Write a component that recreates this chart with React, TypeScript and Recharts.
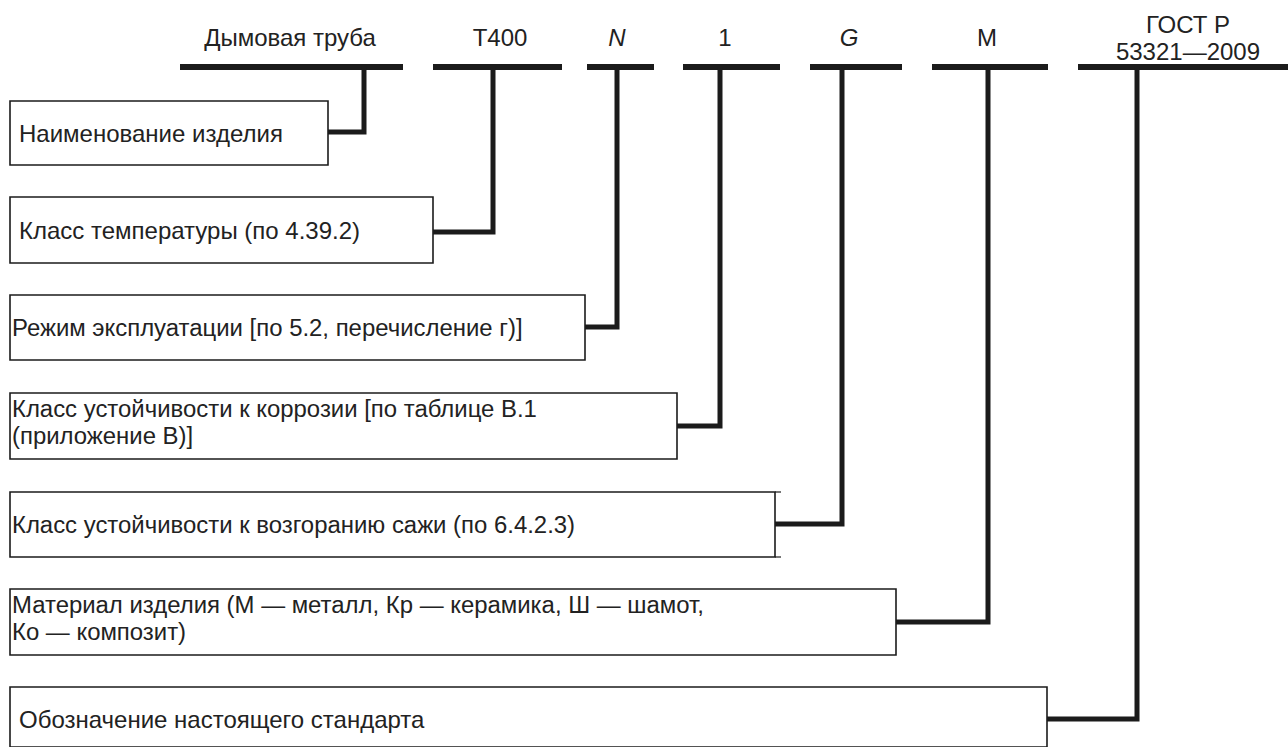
import { ComposedChart, Line, ReferenceArea, Scatter, XAxis, YAxis } from 'recharts';

// designation scheme, in page pixels (x to the right, y downwards)
const codeLabels = [['Дымовая труба'], ['T400'], ['N'], ['1'], ['G'], ['M'], ['ГОСТ Р', '53321—2009']];
const codeItalic = [false, false, true, false, true, false, false];
const codeLabelX = [290, 500, 617, 725, 849, 987, 1188];
const barStart = [180, 433, 587, 683, 810, 932, 1078];
const barEnd = [403, 562, 654, 780, 902, 1048, 1288];
const stemX = [364, 493, 617, 720, 842, 988, 1137];
const BAR_Y = 67;

const boxTexts = [
  ['Наименование изделия'],
  ['Класс температуры (по 4.39.2)'],
  ['Режим эксплуатации [по 5.2, перечисление г)]'],
  ['Класс устойчивости к коррозии [по таблице В.1', '(приложение В)]'],
  ['Класс устойчивости к возгоранию сажи (по 6.4.2.3)'],
  ['Материал изделия (М — металл, Кр — керамика, Ш — шамот,', 'Ко — композит)'],
  ['Обозначение настоящего стандарта'],
];
const boxNarrow = [false, false, true, true, true, true, false];
const boxLeft = 10;
const boxRight = [328, 433, 585, 677, 775, 896, 1047];
const boxTop = [101, 197, 295, 393, 492, 589, 687];
const boxBottom = [165, 263, 360, 459, 557, 655, 751];
const connectorY = [132, 232, 327, 426, 524, 622, 719];

const W = 1288;
const H = 747;
const INK = '#1b1b1b';

const codeLabelPoints = codeLabels.flatMap((lines, i) =>
  lines.map((text, j) => ({
    x: codeLabelX[i],
    y: lines.length > 1 ? 33 + j * 27 : 46,
    text,
    italic: codeItalic[i],
  }))
);

const boxTextPoints = boxTexts.flatMap((lines, i) => {
  const mid = (boxTop[i] + boxBottom[i]) / 2;
  return lines.map((text, j) => ({
    x: boxNarrow[i] ? 12 : 19,
    y: lines.length > 1 ? mid - 9 + j * 27 : mid + 9,
    text,
    narrow: boxNarrow[i],
  }));
});

const barLines = barStart.map((s, i) => [
  { x: s, y: BAR_Y },
  { x: barEnd[i], y: BAR_Y },
]);

const leaderLines = stemX.map((sx, i) => [
  { x: sx, y: BAR_Y },
  { x: sx, y: connectorY[i] },
  { x: boxRight[i], y: connectorY[i] },
]);

// box 5 has its top and bottom rules running a little past the side
const tickLines = [
  [{ x: boxRight[4], y: boxTop[4] }, { x: boxRight[4] + 6, y: boxTop[4] }],
  [{ x: boxRight[4], y: boxBottom[4] }, { x: boxRight[4] + 6, y: boxBottom[4] }],
];

const CodeLabel = (props: any) => {
  const { cx, cy, payload } = props;
  return (
    <text
      x={cx}
      y={cy}
      textAnchor="middle"
      fontFamily="'Liberation Sans', Arial, sans-serif"
      fontSize={24}
      fontStyle={payload.italic ? 'italic' : 'normal'}
      fill="#222"
    >
      {payload.text}
    </text>
  );
};

const BoxLabel = (props: any) => {
  const { cx, cy, payload } = props;
  const sx = payload.narrow ? 1.04 : 1;
  return (
    <text
      x={cx}
      y={cy}
      textAnchor="start"
      fontFamily="'Liberation Sans', Arial, sans-serif"
      fontSize={payload.narrow ? 23 : 24}
      fill="#222"
      transform={`translate(${cx},${cy}) scale(${sx},1) translate(${-cx},${-cy})`}
    >
      {payload.text}
    </text>
  );
};

export default function App() {
  return (
    <div style={{ position: 'absolute', left: 0, top: 0, width: W, height: H, background: '#fff' }}>
      <ComposedChart width={W} height={H} margin={{ top: 0, right: 0, bottom: 0, left: 0 }}>
        <XAxis type="number" dataKey="x" domain={[0, W]} hide allowDataOverflow />
        <YAxis type="number" dataKey="y" domain={[0, H]} reversed hide allowDataOverflow />

        {boxTop.map((t, i) => (
          <ReferenceArea
            key={`box-${i}`}
            x1={boxLeft}
            x2={boxRight[i]}
            y1={t}
            y2={Math.min(boxBottom[i], H)}
            fill="#fff"
            fillOpacity={1}
            stroke={INK}
            strokeWidth={1.6}
            ifOverflow="visible"
          />
        ))}

        {barLines.map((d, i) => (
          <Line
            key={`bar-${i}`}
            data={d}
            dataKey="y"
            type="linear"
            stroke={INK}
            strokeWidth={6}
            dot={false}
            activeDot={false}
            isAnimationActive={false}
          />
        ))}

        {leaderLines.map((d, i) => (
          <Line
            key={`lead-${i}`}
            data={d}
            dataKey="y"
            type="linear"
            stroke={INK}
            strokeWidth={5}
            strokeLinejoin="miter"
            dot={false}
            activeDot={false}
            isAnimationActive={false}
          />
        ))}

        {tickLines.map((d, i) => (
          <Line
            key={`tick-${i}`}
            data={d}
            dataKey="y"
            type="linear"
            stroke={INK}
            strokeWidth={1.2}
            dot={false}
            activeDot={false}
            isAnimationActive={false}
          />
        ))}

        <Scatter data={codeLabelPoints} dataKey="y" shape={CodeLabel} isAnimationActive={false} />
        <Scatter data={boxTextPoints} dataKey="y" shape={BoxLabel} isAnimationActive={false} />
      </ComposedChart>
    </div>
  );
}
